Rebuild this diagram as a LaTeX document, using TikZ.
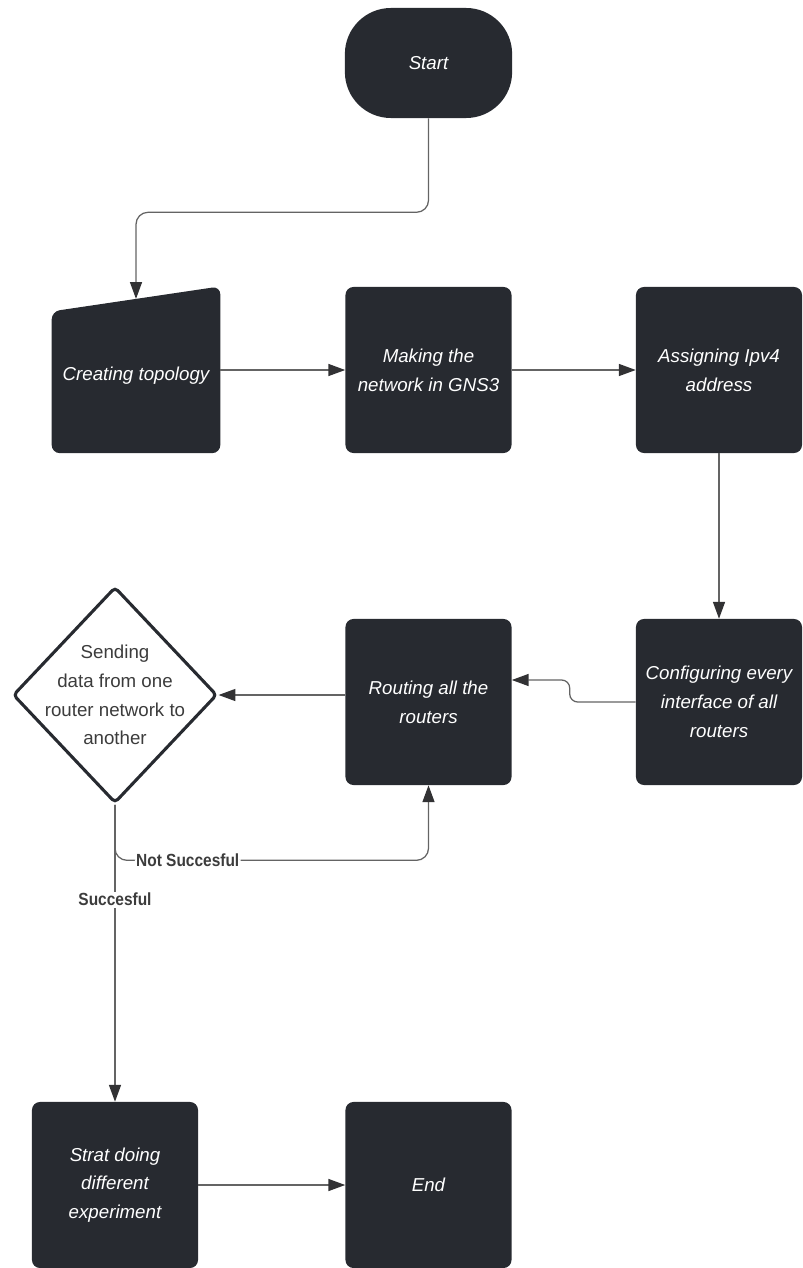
\documentclass[tikz,border=0pt]{standalone}
\usepackage{fontspec}
\setmainfont{Liberation Sans}
\newfontfamily\tagfont[FakeStretch=0.88]{Liberation Sans}
\usepackage{xcolor}
\usepackage{tikz}
\usetikzlibrary{arrows.meta,shapes.geometric,calc,backgrounds}

\definecolor{boxdark}{RGB}{39,42,48}
\definecolor{linegray}{RGB}{100,100,100}
\definecolor{tipgray}{RGB}{50,50,52}
\definecolor{textgray}{RGB}{60,60,60}

\begin{document}
\begin{tikzpicture}[
    x=0.025cm, y=-0.025cm,
    box/.style={
        rectangle,
        fill=boxdark,
        rounded corners=0.2cm,
        text=white,
        align=center,
        font=\fontsize{13.3}{20.5}\selectfont\itshape,
        minimum width=4.15cm,
        minimum height=4.15cm
    },
    terminal/.style={
        box,
        rounded corners=1.15cm,
        minimum width=4.18cm,
        minimum height=2.75cm
    },
    decision/.style={
        diamond,
        draw=boxdark,
        line width=2.2pt,
        fill=white,
        rounded corners=0.1cm,
        inner sep=0pt,
        minimum width=5.1cm,
        minimum height=5.4cm
    },
    decisiontext/.style={
        align=center,
        text=textgray,
        font=\fontsize{13.3}{20.5}\selectfont
    },
    tag/.style={
        fill=white,
        text=textgray,
        inner sep=1pt,
        font=\tagfont\bfseries\fontsize{12.5}{14}\selectfont
    },
    arrow/.style={
        draw=linegray,
        line width=0.9pt,
        -{Triangle[length=0.42cm, width=0.3cm, color=tipgray]}
    }
]
\useasboundingbox (0,0) rectangle (802,1268);

\node[terminal] (start) at (428.5,63) {Start};
\node[box, fill=none, minimum width=4.2cm, minimum height=3.84cm] (topo) at (136,376) {Creating topology};
\node[box] (network) at (428.5,370) {Making the\\network in GNS3};
\node[box] (assign) at (719,370) {Assigning Ipv4\\address};

\node[box] (config) at (719,702) {Configuring every\\interface of all\\routers};
\node[box] (routing) at (428.5,702) {Routing all the\\routers};
\node[decision] (check) at (115,695) {};
\node[decisiontext] (checktext) at (check) {Sending\\data from one\\router network to\\another};

\node[box] (strat) at (115,1185) {Strat doing\\different\\experiment};
\node[box] (finish) at (428.5,1185) {End};

% manual input shape behind the topology text
\begin{scope}[on background layer]
\fill[boxdark, rounded corners=0.2cm] ([yshift=-0.3125cm]topo.north west) -- ([yshift=0.3125cm]topo.north east) -- (topo.south east) -- (topo.south west) -- cycle;
\end{scope}

\draw[arrow, rounded corners=0.3cm] (start.south) -- ++(0,94) -| (topo.north);
\draw[arrow] (network.west -| topo.east) -- (network.west);
\draw[arrow] (network) -- (assign);
\draw[arrow] (assign) -- (config);
\draw[arrow, rounded corners=0.2cm] (config.west) -| ++(-66,-22) coordinate (jog) -- (jog -| routing.east);
\draw[arrow] (check.east -| routing.west) -- (check.east);

\draw[arrow] (check.south) -- (strat.north) node[tag, pos=0.32] {Succesful};
\draw[arrow, rounded corners=0.3cm] (check.south) |- ($(routing.south)+(0,75)$) node[tag, pos=0.616] {Not Succesful} -- (routing.south);

\draw[arrow] (strat) -- (finish);

\end{tikzpicture}
\end{document}
